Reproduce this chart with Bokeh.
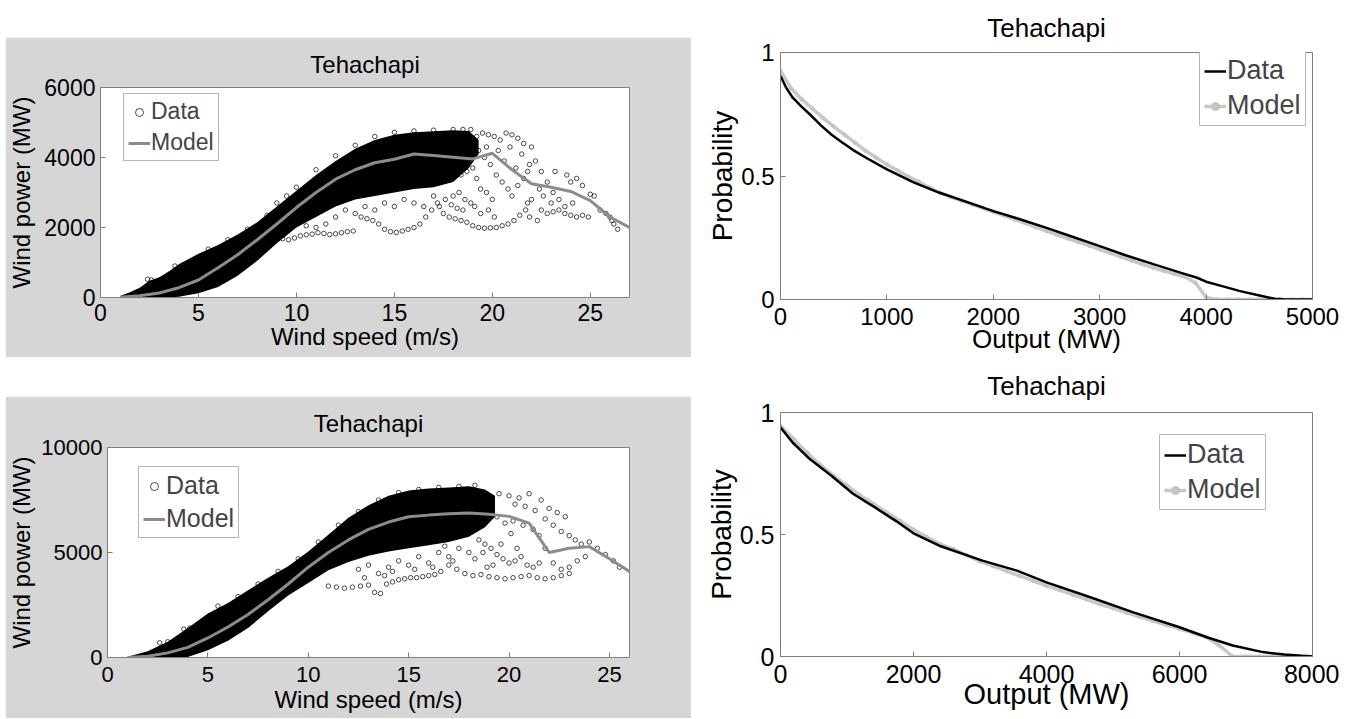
from bokeh.plotting import figure
from bokeh.layouts import row, column
from bokeh.models import Spacer, Range1d, FixedTicker, Legend, LegendItem
from bokeh.embed import file_html
from bokeh.resources import INLINE

FONT = "Liberation Sans"
GREY_BG = "#d6d6d6"
AXC = "#7f7f7f"

# ---------------- data: top-left (wind speed vs power, 6000 MW) ----------------
tl_model_speed = list(range(1, 28))
tl_model_power = [10, 50, 130, 280, 500, 850, 1220, 1650, 2100, 2570, 3000, 3380, 3650, 3850,
                  3950, 4100, 4060, 4010, 3960, 4120, 3650, 3250, 3150, 3030, 2770, 2300, 2000]
tl_env_speed = [1, 1.5, 2, 2.5, 3, 3.5, 4, 5, 6, 7, 8, 9, 10, 11, 12, 13, 14, 15, 16, 17, 18, 18.8, 19.3]
tl_env_upper = [40, 150, 280, 480, 580, 750, 950, 1250, 1500, 1800, 2150, 2600, 3050, 3500, 3900,
                4250, 4500, 4650, 4720, 4750, 4780, 4760, 4500]
tl_env_lower = [0, 0, 0, 0, 0, 0, 20, 120, 300, 620, 1050, 1550, 2000, 2300, 2600, 2800, 2900,
                3000, 3100, 3150, 3300, 3700, 4100]
tl_sparse_speed = [9.3, 9.6, 9.9, 10.2, 10.5, 10.8, 11.1, 11.4, 11.7, 12.0, 12.3, 12.6, 12.9,
                   13.3, 13.6, 13.9, 14.2, 14.5, 14.8, 15.1, 15.4, 15.7, 16.0, 16.3, 16.6, 16.9, 17.2,
                   17.5, 17.8, 18.1, 18.4, 18.7, 19.0, 19.3, 19.6, 19.9, 20.2, 20.5, 20.8, 21.1, 21.4, 21.7,
                   19.5, 19.8, 20.1, 20.4, 20.7, 21.0, 21.3, 21.6,
                   20.2, 20.5, 20.8, 21.0, 21.3, 21.6, 21.9, 22.2, 22.5, 22.8, 23.1, 23.4, 23.7, 24.0, 24.3, 24.6,
                   22.5, 22.8, 23.1, 23.4, 23.7, 24.0, 24.3, 24.6, 24.9, 25.2, 25.5, 25.8, 26.1, 26.4,
                   22.0, 21.8, 22.3, 21.9, 20.0, 19.7, 19.4, 19.2, 19.0, 18.7, 18.4, 18.9, 18.6, 22.4, 23.0,
                   15.5, 16.0, 16.5, 17.0, 15.0, 14.5, 14.0, 13.5, 13.0, 12.5, 12.0, 11.5, 11.0, 10.5,
                   19.0, 19.3, 19.6, 19.9, 20.3, 20.6, 21.2, 21.8, 22.0, 21.5, 20.9, 19.2, 18.9, 19.7,
                   22.6, 23.2, 23.8, 24.1, 25.0, 26.2, 26.0,
                   17.3, 17.6, 18.0, 18.3, 17.9, 18.2, 18.5, 19.1, 19.4, 19.8, 20.1,
                   2.4, 2.6, 3.8, 4.2, 5.5, 6.5, 7.5, 8.5, 9.0, 9.5, 10.0, 11.0, 12.0, 13.0, 14.0,
                   15.0, 16.0, 17.0, 18.0, 18.5]
tl_sparse_power = [1680, 1650, 1700, 1760, 1790, 1810, 1850, 1830, 1800, 1820, 1850, 1880, 1900,
                   2300, 2250, 2200, 2100, 1950, 1880, 1860, 1900, 1950, 2000, 2100, 2300, 2500, 2700,
                   2400, 2300, 2250, 2200, 2150, 2050, 2000, 1980, 1990, 2000, 2050, 2100, 2200, 2350, 2500,
                   4700, 4650, 4600, 4500, 4700, 4650, 4550, 4400,
                   3500, 3300, 3100, 2900, 3200, 3400, 3800, 3900, 3600, 3300, 3000, 2800, 2600, 3300, 3400, 3200,
                   2500, 2400, 2450, 2500, 2400, 2350, 2300, 2350, 2300, 2900, 2500, 2400, 2200, 1950,
                   2800, 2700, 2200, 2300, 2800, 3000, 3100, 3400, 3700, 3600, 3500, 2700, 2800, 3100, 2700,
                   2800, 2700, 2600, 2900, 2600, 2700, 2500, 2600, 2400, 2500, 2300, 2100, 2000, 2050,
                   4400, 4200, 4000, 3800, 4200, 3900, 3700, 3600, 4300, 4100, 4300, 4600, 4800, 4300,
                   2900, 3600, 3500, 2700, 2950, 2100, 2300,
                   2600, 2800, 2900, 3000, 2650, 2550, 2500, 2600, 2400, 2500, 2300,
                   520, 500, 900, 930, 1380, 1650, 1950, 2350, 2700, 2900, 3150, 3650, 4050, 4350, 4600,
                   4720, 4760, 4780, 4800, 4800]

# ---------------- data: bottom-left (wind speed vs power, 10000 MW) ----------------
bl_model_speed = list(range(1, 27))
bl_model_power = [0, 60, 220, 480, 930, 1450, 2050, 2750, 3500, 4300, 5000, 5600, 6100, 6450,
                  6700, 6780, 6850, 6880, 6820, 6720, 6400, 5000, 5200, 5280, 4700, 4100]
bl_env_speed = [1, 2, 3, 4, 5, 6, 7, 8, 9, 10, 11, 12, 13, 14, 15, 16, 17, 18, 18.8, 19.3]
bl_env_upper = [30, 300, 750, 1400, 2100, 2600, 3200, 3800, 4350, 5050, 5850, 6650, 7250, 7700,
                7950, 8050, 8100, 8150, 8000, 7700]
bl_env_lower = [0, 0, 0, 20, 350, 800, 1400, 2200, 2950, 3550, 4150, 4550, 4850, 5050, 5200,
                5350, 5500, 5750, 6200, 6700]
bl_sparse_speed = [11.0, 11.4, 11.8, 12.2, 12.6, 13.0, 13.3, 13.6, 13.9, 14.2, 14.5, 14.8, 15.1, 15.4,
                   15.7, 16.0, 16.3, 16.6, 17.0, 17.4, 17.8, 18.2, 18.6, 19.0, 19.4, 19.8, 20.2, 20.6,
                   21.0, 21.4, 21.8, 22.2, 22.6, 23.0,
                   18.5, 18.8, 19.1, 19.4, 19.7, 20.0, 20.3, 20.6, 20.9, 21.2, 21.5, 19.2, 18.9,
                   19.5, 20.0, 20.5, 21.0, 20.8, 21.3, 21.6, 22.0, 22.4, 22.8, 20.3, 21.8, 22.2, 22.6,
                   23.0, 23.3, 23.6, 24.0, 24.4, 24.8, 25.2, 25.5, 23.8, 23.4, 23.0, 22.6, 22.2, 21.8,
                   21.5, 21.2, 20.7, 20.2, 19.8, 19.4, 19.0,
                   12.5, 13.0, 13.5, 14.0, 14.5, 15.0, 15.5, 16.0, 16.5, 17.0, 17.5, 18.0, 14.2, 15.3,
                   16.2, 17.2, 18.3, 12.8, 13.8, 16.8, 18.7, 19.6, 20.1, 20.4,
                   2.6, 3.0, 3.8, 4.1, 5.5, 6.5, 7.5, 8.5, 9.5, 10.5, 11.5, 12.5, 13.5, 14.5, 15.5,
                   16.5, 17.5, 18.3]
bl_sparse_power = [3400, 3350, 3300, 3350, 3400, 3450, 3100, 3050, 3500, 3600, 3700, 3750, 3800, 3800,
                   3850, 3900, 3950, 4100, 4400, 4200, 4000, 3900, 3950, 3850, 3800, 3750, 3800, 3850,
                   3900, 3800, 3750, 3800, 3900, 4000,
                   5600, 5400, 5200, 4900, 4700, 4500, 4600, 4800, 4400, 4300, 4500, 4400, 4300,
                   7800, 7700, 7600, 7800, 7200, 7000, 7500, 7100, 6900, 6700, 7300, 6600, 6300, 6000,
                   5800, 5600, 5400, 5500, 5200, 4900, 4600, 4300, 4800, 4600, 4300, 4200, 4500, 5200,
                   5800, 6100, 6300, 6500, 6400, 6700, 6900,
                   4200, 4400, 4000, 4300, 4600, 4400, 4800, 4500, 5000, 4800, 5200, 5000, 4100, 4200,
                   4300, 4600, 4700, 3800, 3900, 5300, 5000, 5400, 5900, 5200,
                   700, 750, 1350, 1400, 2450, 2900, 3500, 4100, 4700, 5500, 6300, 6950, 7500, 7850, 8000,
                   8100, 8150, 8200]

# ---------------- data: top-right (exceedance probability, 5000 MW) ----------------
tr_data_output = [0, 50, 113, 200, 275, 380, 477, 580, 680, 800, 1000, 1246, 1489, 1750, 2000, 2250,
                  2500, 2750, 3000, 3250, 3511, 3750, 3916, 4000, 4150, 4320, 4523, 4644, 4750, 5000]
tr_data_prob = [0.905, 0.86, 0.818, 0.78, 0.75, 0.705, 0.668, 0.636, 0.606, 0.575, 0.527, 0.475, 0.433,
                0.395, 0.358, 0.325, 0.29, 0.253, 0.216, 0.178, 0.142, 0.11, 0.088, 0.072, 0.054, 0.034,
                0.014, 0.003, 0.0, 0.0]
tr_model_output = list(range(0, 5001, 100))
tr_model_prob = [0.925, 0.855, 0.81, 0.773, 0.735, 0.70, 0.668, 0.635, 0.602, 0.574, 0.547, 0.522,
                 0.498, 0.476, 0.453, 0.432, 0.415, 0.40, 0.385, 0.37, 0.355, 0.34, 0.324, 0.309,
                 0.293, 0.277, 0.262, 0.247, 0.232, 0.218, 0.203, 0.188, 0.173, 0.158, 0.143, 0.129,
                 0.116, 0.104, 0.092, 0.068, 0.008, 0.0, 0.0, 0.0, 0.0, 0.0, 0.0, 0.0, 0.0, 0.0, 0.0]

# ---------------- data: bottom-right (exceedance probability, 8000 MW) ----------------
br_data_output = [0, 182, 441, 766, 1090, 1414, 1739, 2000, 2388, 3036, 3555, 4000, 4658, 5307, 6000,
                  6410, 6800, 7253, 7578, 7838, 8000]
br_data_prob = [0.939, 0.877, 0.809, 0.741, 0.667, 0.612, 0.555, 0.505, 0.454, 0.393, 0.352, 0.304,
                0.243, 0.181, 0.12, 0.079, 0.045, 0.018, 0.008, 0.003, 0.0]
br_model_output = list(range(0, 8001, 200))
br_model_prob = [0.945, 0.89, 0.835, 0.785, 0.74, 0.70, 0.66, 0.625, 0.59, 0.555, 0.52, 0.49, 0.46,
                 0.44, 0.415, 0.39, 0.37, 0.35, 0.33, 0.31, 0.29, 0.272, 0.253, 0.234, 0.215, 0.198,
                 0.18, 0.163, 0.146, 0.129, 0.113, 0.097, 0.08, 0.045, 0.0, 0.0, 0.0, 0.0, 0.0, 0.0, 0.0]


def base_fig(width, height, xr, yr, borders, bg):
    p = figure(width=width, height=height, x_range=Range1d(*xr), y_range=Range1d(*yr),
               output_backend="svg", toolbar_location=None,
               min_border_left=borders[0], min_border_right=borders[1],
               min_border_top=borders[2], min_border_bottom=borders[3])
    p.border_fill_color = bg
    p.background_fill_color = "white"
    p.outline_line_color = AXC
    p.grid.visible = False
    return p


def style_axes(p, xticks, yticks, tick_size, xlabel, ylabel, xlabel_size, ylabel_size,
               xstand, ystand, xlstand, ylstand, yover=None):
    p.xaxis.ticker = FixedTicker(ticks=xticks)
    p.yaxis.ticker = FixedTicker(ticks=yticks)
    if yover:
        p.yaxis.major_label_overrides = yover
    for ax in (p.xaxis, p.yaxis):
        ax.axis_line_color = AXC
        ax.major_tick_line_color = AXC
        ax.major_tick_in = 5
        ax.major_tick_out = 0
        ax.minor_tick_line_color = None
        ax.major_label_text_font = FONT
        ax.major_label_text_font_size = tick_size
        ax.major_label_text_color = "black"
        ax.axis_label_text_font = FONT
        ax.axis_label_text_font_style = "normal"
        ax.axis_label_text_color = "black"
    p.xaxis.axis_label = xlabel
    p.yaxis.axis_label = ylabel
    p.xaxis.axis_label_text_font_size = xlabel_size
    p.yaxis.axis_label_text_font_size = ylabel_size
    p.xaxis.major_label_standoff = xstand
    p.yaxis.major_label_standoff = ystand
    p.xaxis.axis_label_standoff = xlstand
    p.yaxis.axis_label_standoff = ylstand


def set_title(p, size, standoff):
    p.title.text = "Tehachapi"
    p.title.align = "center"
    p.title.text_font = FONT
    p.title.text_font_size = size
    p.title.text_font_style = "normal"
    p.title.text_color = "black"
    p.title.standoff = standoff


def add_legend(p, items, loc, size, glyph_w):
    lg = Legend(items=items, location=loc)
    lg.label_text_font = FONT
    lg.label_text_font_size = size
    lg.border_line_color = "#6f6f6f"
    lg.border_line_width = 1
    lg.background_fill_color = "white"
    lg.background_fill_alpha = 1.0
    lg.glyph_width = glyph_w
    lg.glyph_height = 20
    lg.padding = 4
    lg.spacing = 4
    lg.margin = 0
    lg.label_standoff = 1
    p.add_layout(lg)


def left_panel(width, height, xmax, ymax, xticks, yticks, borders, env_x, env_up, env_lo,
               sp_x, sp_y, m_x, m_y, leg_loc, leg_size, tick_size, lab_size, title_size, title_so,
               stands):
    p = base_fig(width, height, (0, xmax), (0, ymax), borders, GREY_BG)
    p.varea(x=env_x, y1=env_lo, y2=env_up, fill_color="black")
    r_sc = p.scatter(sp_x, sp_y, marker="circle", size=4.5, fill_color=None, line_color="black",
                     line_width=0.7)
    r_m = p.line(m_x, m_y, line_color="#8c8c8c", line_width=3)
    style_axes(p, xticks, yticks, tick_size, "Wind speed (m/s)", "Wind power (MW)", lab_size, lab_size,
               *stands)
    set_title(p, title_size, title_so)
    add_legend(p, [LegendItem(label="Data", renderers=[r_sc]), LegendItem(label="Model", renderers=[r_m])],
               leg_loc, leg_size, 22)
    return p


def right_panel(width, height, xmax, xticks, borders, d_x, d_y, m_x, m_y, leg_loc, leg_size,
                tick_size, xlab_size, ylab_size, title_size, title_so, stands):
    p = base_fig(width, height, (0, xmax), (0, 1), borders, "white")
    r_mline = p.line(m_x, m_y, line_color="#c8c8c8", line_width=3.5)
    r_mpts = p.scatter(m_x, m_y, marker="circle", size=3.5, fill_color="#c4c4c4", line_color="#c4c4c4")
    r_d = p.line(d_x, d_y, line_color="black", line_width=2.5)
    style_axes(p, xticks, [0, 0.5, 1], tick_size, "Output (MW)", "Probability", xlab_size, ylab_size,
               *stands, yover={0: "0", 0.5: "0.5", 1: "1"})
    set_title(p, title_size, title_so)
    add_legend(p, [LegendItem(label="Data", renderers=[r_d]),
                   LegendItem(label="Model", renderers=[r_mline, r_mpts])],
               leg_loc, leg_size, 22)
    return p


tl = left_panel(686, 320, 27, 6000, [0, 5, 10, 15, 20, 25], [0, 2000, 4000, 6000], (91, 62, 50, 60),
                tl_env_speed, tl_env_upper, tl_env_lower, tl_sparse_speed, tl_sparse_power,
                tl_model_speed, tl_model_power, (23, 136), "23px", "23px", "24px", "24px", 20,
                (6, 5, -1, 6))
bl = left_panel(686, 322, 26, 10000, [0, 5, 10, 15, 20, 25], [0, 5000, 10000], (102, 62, 51, 61),
                bl_env_speed, bl_env_upper, bl_env_lower, bl_sparse_speed, bl_sparse_power,
                bl_model_speed, bl_model_power, (31, 119), "25px", "22px", "24px", "24px", 21,
                (9, 5, 1, 3))
tr = right_panel(648, 356, 5000, [0, 1000, 2000, 3000, 4000, 5000], (89, 27, 52, 57),
                 tr_data_output, tr_data_prob, tr_model_output, tr_model_prob, (419, 173), "27px",
                 "24px", "26px", "28px", "26px", 20, (8, 6, -4, 0))
br = right_panel(648, 362, 8000, [0, 2000, 4000, 6000, 8000], (89, 27, 56, 62),
                 br_data_output, br_data_prob, br_model_output, br_model_prob, (379, 146), "27px",
                 "25px", "29px", "28px", "26px", 24, (8, 6, -8, 0))

left_col = column(Spacer(width=686, height=37), row(tl), Spacer(width=686, height=39), row(bl))
layout = row(Spacer(width=5, height=10), left_col, column(tr, br))

open("out.html", "w").write(file_html(layout, INLINE))
